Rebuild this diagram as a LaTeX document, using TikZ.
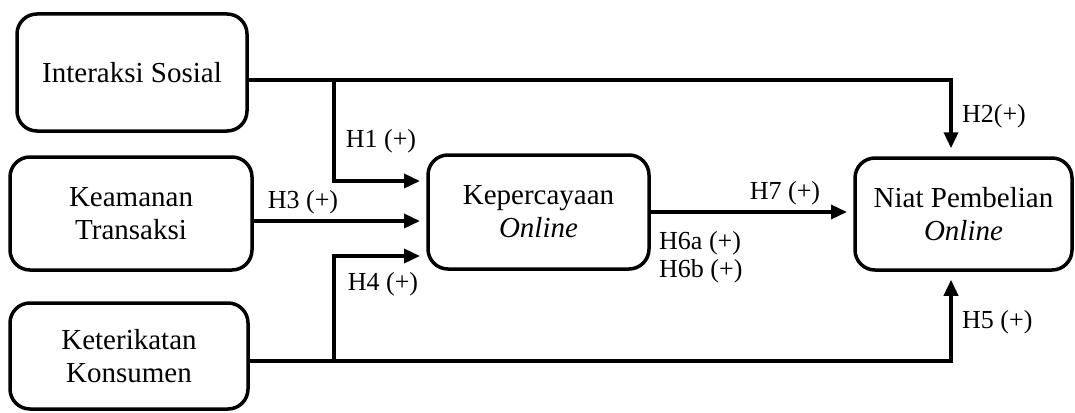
\documentclass[tikz,border=0pt]{standalone}
\usepackage{fontspec}
\setmainfont{Liberation Serif}
\usetikzlibrary{arrows.meta,calc}
\begin{document}
\begin{tikzpicture}[x=1pt,y=-1pt,
  box/.style={draw, line width=3.5pt, rounded corners=20pt, inner sep=0pt, align=center, font=\fontsize{29}{33}\selectfont},
  conn/.style={line width=3.5pt},
  arr/.style={conn, -{Triangle[length=16pt,width=14pt]}},
  lab/.style={font=\fontsize{26}{30}\selectfont, inner sep=0pt}]
\useasboundingbox (0,0) rectangle (1075,412);
\node[box, minimum width=230pt, minimum height=117pt] (A) at (132,72.5) {Interaksi Sosial};
\node[box, minimum width=242pt, minimum height=113pt] (B) at (131,213.5) {Keamanan\\Transaksi};
\node[box, minimum width=238pt, minimum height=106pt] (C) at (129,356) {Keterikatan\\Konsumen};
\node[box, minimum width=221pt, minimum height=114pt] (D) at (538.5,212) {Kepercayaan\\\textit{Online}};
\node[box, minimum width=217pt, minimum height=112pt] (E) at (963.5,214) {Niat Pembelian\\\textit{Online}};
\coordinate (topY) at (0,80);
\coordinate (botY) at (0,361);
\coordinate (jx) at (334,0);
\coordinate (ex) at (951,0);
\coordinate (h1) at (420,181);
\coordinate (h3) at (420,221);
\coordinate (h4) at (420,256);
\coordinate (h7) at (847,212);
\draw[arr] (A.east |- topY) -| ([yshift=8pt]E.north -| ex);
\draw[arr] (jx |- topY) |- (h1);
\draw[arr] (B.east |- h3) -- (h3);
\draw[arr] (jx |- botY) |- (h4);
\draw[arr] (C.east |- botY) -| ([yshift=-8pt]E.south -| ex);
\draw[arr] (D.east |- h7) -- (h7);
\node[lab] (l1) at (381,141) {H1 (+)};
\node[lab] (l3) at (303,202) {H3 (+)};
\node[lab] (l4) at (383,284) {H4 (+)};
\node[lab] (l2) at (994,116) {H2(+)};
\node[lab] (l7) at (785,193) {H7 (+)};
\node[lab, anchor=west] (l6a) at (659,243) {H6a (+)};
\node[lab, anchor=west] (l6b) at (659,271) {H6b (+)};
\node[lab, anchor=west] (l5) at (962,322) {H5 (+)};
\end{tikzpicture}
\end{document}
